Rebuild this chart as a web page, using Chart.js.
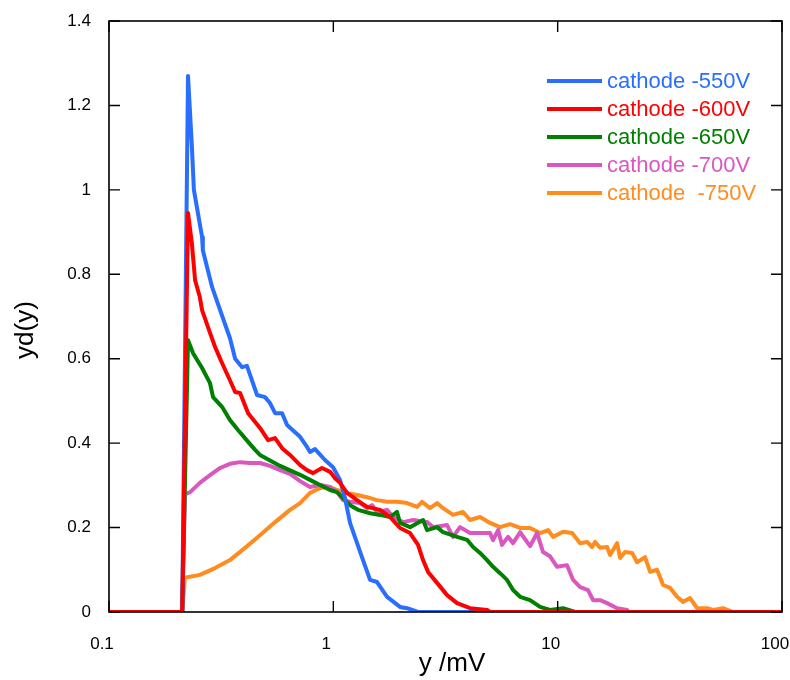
<!DOCTYPE html>
<html><head><meta charset="utf-8">
<script src="https://cdn.jsdelivr.net/npm/chart.js@4"></script>
<style>html,body{margin:0;padding:0;background:#fff;overflow:hidden}</style>
</head><body>
<canvas id="c" width="790" height="680"></canvas>
<script>
const xTickValues = [0.1, 1, 10, 100];
const xTickLabels = ['0.1', '1', '10', '100'];
const yTickValues = [0, 0.2, 0.4, 0.6, 0.8, 1.0, 1.2, 1.4];
const yTickLabels = ['0', '0.2', '0.4', '0.6', '0.8', '1', '1.2', '1.4'];
const xTitle = 'y /mV';
const yTitle = 'yd(y)';
const seriesLabels = ['cathode -550V', 'cathode -600V', 'cathode -650V', 'cathode -700V', 'cathode  -750V'];

const x550 = [0.1,0.212,0.225,0.234,0.239,0.260,0.262,0.288,0.291,0.336,0.346,0.365,0.392,0.412,0.457,0.496,0.522,0.550,0.591,0.622,0.675,0.711,0.763,0.787,0.829,0.918,0.997,1.071,1.127,1.187,1.276,1.356,1.458,1.566,1.736,1.983,2.131,2.386,100];
const y550 = [0,0,1.27,1.106,1.0,0.888,0.857,0.770,0.763,0.668,0.649,0.600,0.580,0.583,0.514,0.509,0.495,0.471,0.471,0.443,0.426,0.415,0.391,0.379,0.386,0.360,0.343,0.313,0.270,0.211,0.163,0.123,0.076,0.071,0.036,0.012,0.009,0,0];

const x600 = [0.1,0.212,0.225,0.234,0.242,0.254,0.260,0.282,0.297,0.319,0.346,0.365,0.384,0.417,0.471,0.512,0.550,0.591,0.641,0.711,0.763,0.812,0.890,0.967,1.018,1.071,1.151,1.276,1.413,1.616,1.789,1.983,2.198,2.386,2.511,2.644,2.900,3.213,3.560,4.070,4.844,4.995,100];
const y600 = [0,0,0.945,0.874,0.786,0.746,0.715,0.661,0.628,0.590,0.549,0.521,0.519,0.471,0.436,0.407,0.412,0.388,0.372,0.348,0.336,0.329,0.341,0.332,0.317,0.306,0.282,0.265,0.249,0.242,0.225,0.199,0.187,0.159,0.123,0.095,0.069,0.040,0.021,0.009,0.005,0,0];

const x650 = [0.1,0.212,0.225,0.237,0.260,0.282,0.291,0.319,0.346,0.376,0.417,0.448,0.471,0.579,0.711,0.787,0.873,0.967,1.039,1.105,1.187,1.289,1.458,1.616,1.789,1.923,1.983,2.198,2.511,2.617,2.900,3.084,3.560,3.946,4.197,4.508,4.844,5.152,5.536,5.949,6.326,6.800,7.534,8.347,9.249,10.57,11.96,100];
const y650 = [0,0,0.644,0.613,0.578,0.542,0.509,0.486,0.455,0.431,0.403,0.384,0.372,0.346,0.325,0.313,0.301,0.289,0.284,0.270,0.253,0.242,0.234,0.230,0.225,0.237,0.211,0.201,0.218,0.194,0.201,0.189,0.178,0.171,0.154,0.140,0.123,0.107,0.092,0.076,0.052,0.036,0.028,0.012,0.005,0.009,0,0];

const x700 = [0.1,0.212,0.218,0.230,0.254,0.282,0.312,0.346,0.384,0.425,0.471,0.522,0.579,0.641,0.711,0.787,0.873,0.967,1.039,1.105,1.187,1.315,1.413,1.488,1.566,1.736,1.846,2.045,2.267,2.617,2.783,3.213,3.417,3.672,4.070,4.508,4.995,5.152,5.424,5.651,6.010,6.326,6.800,7.534,8.094,8.608,9.249,9.938,11.01,11.72,12.59,13.66,14.38,15.45,16.61,18.40,20.39,20.60,100];
const y700 = [0,0,0.279,0.284,0.306,0.324,0.341,0.351,0.355,0.353,0.353,0.346,0.336,0.327,0.310,0.296,0.301,0.296,0.284,0.265,0.261,0.258,0.246,0.253,0.237,0.242,0.225,0.213,0.218,0.213,0.201,0.206,0.178,0.201,0.187,0.187,0.187,0.170,0.194,0.159,0.178,0.163,0.189,0.156,0.187,0.142,0.132,0.107,0.111,0.076,0.059,0.052,0.028,0.028,0.021,0.009,0.005,0,0];

const x750 = [0.1,0.212,0.218,0.254,0.297,0.346,0.404,0.471,0.550,0.641,0.711,0.787,0.873,0.967,1.039,1.151,1.276,1.413,1.566,1.736,1.923,2.131,2.362,2.486,2.698,2.900,3.084,3.417,3.787,4.070,4.508,4.995,5.536,6.135,6.800,7.534,8.347,9.06,9.539,10.57,11.60,12.59,13.53,14.23,14.68,15.45,16.61,17.13,18.40,18.98,19.98,21.47,22.59,24.53,25.82,27.74,29.51,31.71,34.07,36.23,38.93,41.83,46.36,49.30,54.62,60.53,100];
const y750 = [0,0,0.081,0.088,0.104,0.123,0.152,0.182,0.213,0.242,0.258,0.282,0.294,0.296,0.289,0.282,0.277,0.272,0.265,0.261,0.261,0.258,0.249,0.261,0.246,0.258,0.246,0.230,0.237,0.218,0.225,0.211,0.201,0.208,0.199,0.199,0.187,0.194,0.178,0.190,0.187,0.163,0.166,0.154,0.166,0.152,0.154,0.135,0.163,0.128,0.142,0.140,0.118,0.130,0.095,0.100,0.064,0.057,0.036,0.024,0.033,0.009,0.009,0.005,0.009,0,0];

const seriesX = [x550, x600, x650, x700, x750];
const seriesY = [y550, y600, y650, y700, y750];
const colors = ['#2A6EFF', '#FF0000', '#008000', '#D957BF', '#FF8C1E'];
const drawOrder = [1, 0, 2, 3, 4];

const FONT = '"Liberation Sans", Arial, Helvetica, sans-serif';

const datasets = seriesLabels.map((lab, i) => ({
  label: lab,
  data: seriesX[i].map((x, j) => ({x: x, y: seriesY[i][j]})),
  borderColor: colors[i],
  backgroundColor: colors[i],
  borderWidth: 4,
  pointRadius: 0,
  tension: 0,
  fill: false,
  order: drawOrder[i]
}));

const framePlugin = {
  id: 'frame',
  afterDraw(chart) {
    const ctx = chart.ctx;
    const a = chart.chartArea;
    const xs = chart.scales.x, ys = chart.scales.y;
    ctx.save();
    ctx.strokeStyle = '#000';
    ctx.lineWidth = 1.6;
    ctx.strokeRect(a.left, a.top, a.right - a.left, a.bottom - a.top);
    ctx.lineWidth = 1.4;
    const tl = 11;
    ctx.beginPath();
    yTickValues.forEach(v => {
      const py = ys.getPixelForValue(v);
      ctx.moveTo(a.left, py); ctx.lineTo(a.left + tl, py);
      ctx.moveTo(a.right, py); ctx.lineTo(a.right - tl, py);
    });
    xTickValues.forEach(v => {
      const px = xs.getPixelForValue(v);
      ctx.moveTo(px, a.bottom); ctx.lineTo(px, a.bottom - tl);
      ctx.moveTo(px, a.top); ctx.lineTo(px, a.top + tl);
    });
    ctx.stroke();

    ctx.fillStyle = '#000';
    ctx.font = '17px ' + FONT;
    ctx.textAlign = 'right';
    ctx.textBaseline = 'middle';
    yTickValues.forEach((v, i) => {
      ctx.fillText(yTickLabels[i], a.left - 18, ys.getPixelForValue(v));
    });
    ctx.textAlign = 'center';
    xTickValues.forEach((v, i) => {
      ctx.fillText(xTickLabels[i], xs.getPixelForValue(v) - 7, a.bottom + 32);
    });

    ctx.font = '26px ' + FONT;
    ctx.fillText(xTitle, 452, 664);
    ctx.save();
    ctx.translate(26, 330);
    ctx.rotate(-Math.PI / 2);
    ctx.fillText(yTitle, 0, 0);
    ctx.restore();

    // legend
    ctx.font = '22px ' + FONT;
    ctx.textAlign = 'left';
    seriesLabels.forEach((lab, i) => {
      const yy = 81 + i * 28;
      ctx.strokeStyle = colors[i];
      ctx.lineWidth = 4;
      ctx.beginPath();
      ctx.moveTo(547, yy); ctx.lineTo(602, yy);
      ctx.stroke();
      ctx.fillStyle = colors[i];
      ctx.fillText(lab, 607, yy + 1);
    });
    ctx.restore();
  }
};

new Chart(document.getElementById('c'), {
  type: 'line',
  data: { datasets: datasets },
  options: {
    responsive: false,
    animation: false,
    devicePixelRatio: 1,
    layout: { padding: { left: 109, right: 8, top: 21, bottom: 68 } },
    plugins: { legend: { display: false }, tooltip: { enabled: false } },
    elements: { line: { borderJoinStyle: 'round', borderCapStyle: 'round' } },
    scales: {
      x: { type: 'logarithmic', min: 0.1, max: 100, display: false },
      y: { type: 'linear', min: 0, max: 1.4, display: false }
    }
  },
  plugins: [framePlugin]
});
</script>
</body></html>
